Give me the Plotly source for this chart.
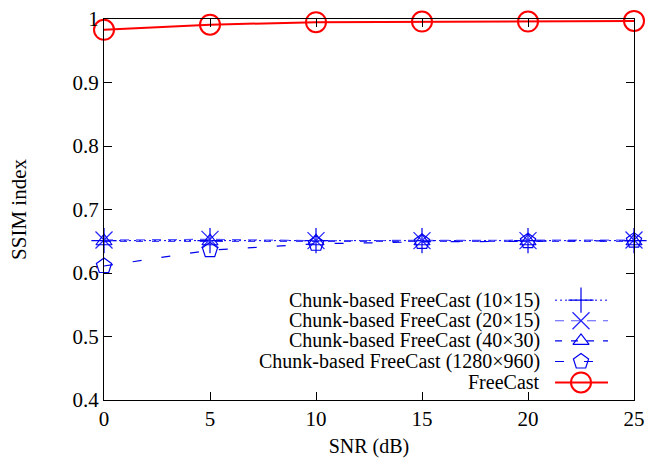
import plotly.graph_objects as go

snr = [0, 5, 10, 15, 20, 25]
chunk_10x15 = [0.651, 0.651, 0.651, 0.651, 0.651, 0.651]
chunk_20x15 = [0.652, 0.653, 0.651, 0.651, 0.651, 0.652]
chunk_40x30 = [0.650, 0.650, 0.650, 0.650, 0.650, 0.650]
chunk_1280x960 = [0.611, 0.636, 0.646, 0.649, 0.650, 0.651]
freecast = [0.983, 0.991, 0.995, 0.996, 0.996, 0.997]

names = ["Chunk-based FreeCast (10×15)", "Chunk-based FreeCast (20×15)",
         "Chunk-based FreeCast (40×30)", "Chunk-based FreeCast (1280×960)", "FreeCast"]
series = [chunk_10x15, chunk_20x15, chunk_40x30, chunk_1280x960, freecast]

styles = [
    dict(color="#0000ee", dash="2px,3px", width=1, symbol="cross-thin-open", size=18, mcolor="#0000ee", mw=1.2),
    dict(color="#5555ff", dash="9px,7px", width=1.2, symbol="x-thin-open", size=17, mcolor="#2222ff", mw=1.2),
    dict(color="#0000ee", dash="7px,9px", width=1.2, symbol="triangle-up-open", size=14, mcolor="#0000ee", mw=1.2),
    dict(color="#0000ee", dash="9px,20px", width=1.2, symbol="pentagon-open", size=16, mcolor="#0000ee", mw=1.2),
    dict(color="#ff0000", dash="solid", width=2, symbol="circle-open", size=20, mcolor="#ff0000", mw=2),
]

FONT = "Times New Roman"
fig = go.Figure()

for name, ys, st in zip(names, series, styles):
    fig.add_trace(go.Scatter(
        x=snr, y=ys, mode="lines+markers", name=name, showlegend=False,
        line=dict(color=st["color"], dash=st["dash"], width=st["width"]),
        marker=dict(symbol=st["symbol"], size=st["size"],
                    line=dict(color=st["mcolor"], width=st["mw"]), color=st["mcolor"]),
        cliponaxis=False,
    ))

# custom legend (text left of sample, gnuplot style)
leg_rows = [0.262, 0.208, 0.155, 0.101, 0.046]
leg_text_x = 0.826
leg_line = [0.851, 0.951]
leg_mark = 0.90
for name, st, ry in zip(names, styles, leg_rows):
    fig.add_trace(go.Scatter(
        x=leg_line, y=[ry, ry], mode="lines", xaxis="x2", yaxis="y2", showlegend=False,
        line=dict(color=st["color"], dash=st["dash"], width=st["width"]), hoverinfo="skip"))
    fig.add_trace(go.Scatter(
        x=[leg_mark], y=[ry], mode="markers", xaxis="x2", yaxis="y2", showlegend=False,
        marker=dict(symbol=st["symbol"], size=st["size"],
                    line=dict(color=st["mcolor"], width=st["mw"]), color=st["mcolor"]),
        hoverinfo="skip"))
    fig.add_annotation(x=leg_text_x, y=ry, xref="paper", yref="paper", text=name,
                       showarrow=False, xanchor="right", yanchor="middle",
                       font=dict(family=FONT, size=20, color="black"))

axis_common = dict(showgrid=False, zeroline=False, showline=True, linecolor="black",
                   linewidth=1.2, mirror="allticks", ticks="inside", ticklen=8,
                   tickcolor="black", automargin=False,
                   tickfont=dict(family=FONT, size=21, color="black"))

fig.update_layout(
    width=659, height=458,
    margin=dict(l=104, r=25, t=19, b=58),
    plot_bgcolor="white", paper_bgcolor="white",
    xaxis=dict(range=[0, 25], tickvals=[0, 5, 10, 15, 20, 25],
               title=dict(text="SNR (dB)", font=dict(family=FONT, size=20, color="black"), standoff=10),
               **axis_common),
    yaxis=dict(range=[0.4, 1.0], tickvals=[0.4, 0.5, 0.6, 0.7, 0.8, 0.9, 1.0],
               ticktext=["0.4", "0.5", "0.6", "0.7", "0.8", "0.9", "1"],
               title=dict(text="SSIM index", font=dict(family=FONT, size=21, color="black"), standoff=40),
               **axis_common),
    xaxis2=dict(range=[0, 1], overlaying="x", visible=False, domain=[0, 1]),
    yaxis2=dict(range=[0, 1], overlaying="y", visible=False, domain=[0, 1]),
)

fig.write_html("out.html")
